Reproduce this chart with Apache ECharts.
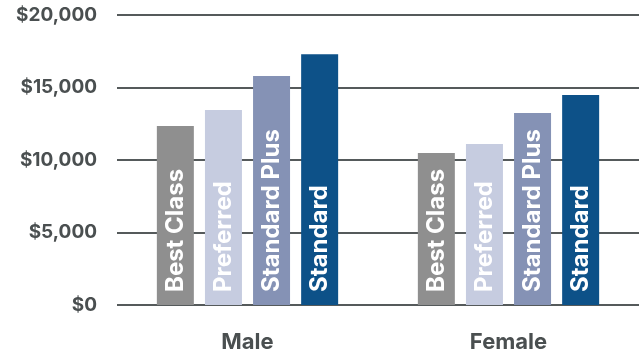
<!DOCTYPE html>
<html>
<head>
<meta charset="utf-8">
<script src="https://cdn.jsdelivr.net/npm/echarts@6/dist/echarts.min.js"></script>
<style>
  html, body { margin: 0; padding: 0; background: #fff; }
  #chart { width: 641px; height: 354px; }
</style>
</head>
<body>
<div id="chart"></div>
<script>
const categories = ["Male", "Female"];
const seriesNames = ["Best Class", "Preferred", "Standard Plus", "Standard"];
const bestClass = [12350, 10480];
const preferred = [13450, 11100];
const standardPlus = [15800, 13250];
const standard = [17300, 14480];
const colors = ["#8f8f8f", "#c6cce0", "#8592b5", "#0d5188"];

const chart = echarts.init(document.getElementById("chart"));

const seriesData = [bestClass, preferred, standardPlus, standard];

const option = {
  animation: false,
  grid: { left: 117, right: 2, top: 15, bottom: 49 },
  xAxis: {
    type: "category",
    data: categories,
    axisLine: { show: false },
    axisTick: { show: false },
    axisLabel: {
      color: "#4a4f50",
      fontFamily: "Inter",
      fontWeight: "bold",
      fontSize: 22,
      margin: 26
    }
  },
  yAxis: {
    type: "value",
    min: 0,
    max: 20000,
    interval: 5000,
    axisLine: { show: false },
    axisTick: { show: false },
    splitLine: { lineStyle: { color: "#555a5b", width: 2 } },
    axisLabel: {
      color: "#4a4f50",
      fontFamily: "Inter",
      fontWeight: "bold",
      fontSize: 19,
      margin: 20,
      formatter: v => "$" + v.toLocaleString("en-US")
    }
  },
  series: seriesData.map((d, i) => ({
    name: seriesNames[i],
    type: "bar",
    data: d,
    barWidth: 37,
    barGap: "30%",
    itemStyle: { color: colors[i] },
    label: {
      show: true,
      position: "insideBottom",
      rotate: 90,
      align: "left",
      verticalAlign: "middle",
      distance: 13,
      color: "#fff",
      fontFamily: "Inter",
      fontWeight: "bold",
      fontSize: 24,
      formatter: seriesNames[i]
    }
  }))
};

chart.setOption(option);
</script>
</body>
</html>
